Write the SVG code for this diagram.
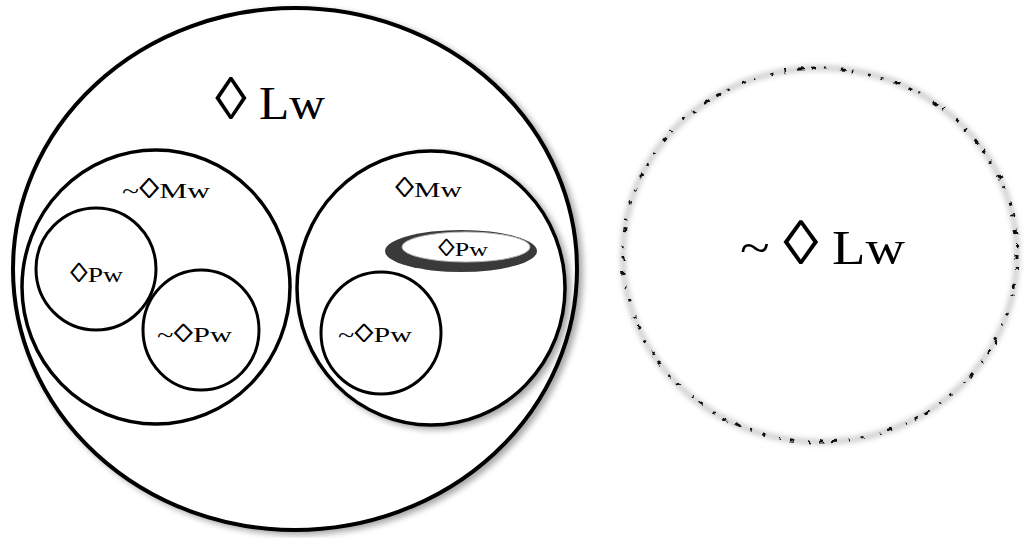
<svg xmlns="http://www.w3.org/2000/svg" width="1024" height="538" viewBox="0 0 1024 538">
<style>
  .ring { fill: #ffffff; stroke: #000000; }
  .lbl { font-family: "Liberation Serif", "Times New Roman", serif; fill: #000000; text-anchor: start; }
  .dia { font-size: 1.3em; }
</style>
<defs>
  <filter id="shadow" x="-10%" y="-10%" width="125%" height="125%">
    <feGaussianBlur in="SourceAlpha" stdDeviation="3"/>
    <feOffset dx="4" dy="3" result="b"/>
    <feComponentTransfer><feFuncA type="linear" slope="0.35"/></feComponentTransfer>
    <feMerge><feMergeNode/><feMergeNode in="SourceGraphic"/></feMerge>
  </filter>
  <filter id="soft" x="-5%" y="-5%" width="110%" height="110%">
    <feGaussianBlur stdDeviation="2.5"/>
  </filter>
  <filter id="rough" x="-5%" y="-5%" width="110%" height="110%">
    <feTurbulence type="fractalNoise" baseFrequency="0.12" numOctaves="2" seed="7" result="n"/>
    <feDisplacementMap in="SourceGraphic" in2="n" scale="7" xChannelSelector="R" yChannelSelector="G" result="d"/>
    <feGaussianBlur in="d" stdDeviation="0.5"/>
  </filter>
</defs>
<rect width="1024" height="538" fill="#ffffff"/>

<g id="lw">
  <ellipse class="ring" cx="295" cy="269" rx="282" ry="261" stroke-width="4" filter="url(#shadow)"/>
  <text class="lbl" x="215" y="119" font-size="46" textLength="110" lengthAdjust="spacingAndGlyphs"><tspan class="dia">◊</tspan> Lw</text>
</g>

<g id="not-mw">
  <ellipse class="ring" cx="156" cy="287" rx="134" ry="137" stroke-width="3.5"/>
  <text class="lbl" x="122" y="198" font-size="22" textLength="88" lengthAdjust="spacingAndGlyphs">~<tspan class="dia">◊</tspan>Mw</text>
</g>

<g id="pw-left">
  <ellipse class="ring" cx="96" cy="269" rx="60" ry="61" stroke-width="3"/>
  <text class="lbl" x="70" y="282" font-size="21" textLength="53" lengthAdjust="spacingAndGlyphs"><tspan class="dia">◊</tspan>Pw</text>
</g>

<g id="not-pw-left">
  <ellipse class="ring" cx="201" cy="330" rx="58" ry="60" stroke-width="3"/>
  <text class="lbl" x="157" y="342" font-size="20" textLength="75" lengthAdjust="spacingAndGlyphs">~<tspan class="dia">◊</tspan>Pw</text>
</g>

<g id="mw">
  <ellipse class="ring" cx="431" cy="288" rx="134" ry="137" stroke-width="3.5" filter="url(#shadow)"/>
  <text class="lbl" x="395" y="197" font-size="22" textLength="67" lengthAdjust="spacingAndGlyphs"><tspan class="dia">◊</tspan>Mw</text>
</g>

<g id="pw-right">
  <ellipse cx="461" cy="251" rx="76" ry="21" fill="#3a3a3a"/>
  <ellipse cx="466" cy="247" rx="64" ry="15" fill="#ffffff" stroke="#bbbbbb" stroke-width="1"/>
  <text class="lbl" x="438" y="256" font-size="19" textLength="50" lengthAdjust="spacingAndGlyphs"><tspan class="dia">◊</tspan>Pw</text>
</g>

<g id="not-pw-right">
  <ellipse class="ring" cx="381" cy="333" rx="60" ry="61" stroke-width="3"/>
  <text class="lbl" x="338" y="342" font-size="20" textLength="74" lengthAdjust="spacingAndGlyphs">~<tspan class="dia">◊</tspan>Pw</text>
</g>

<g id="not-lw">
  <ellipse cx="820" cy="255" rx="197" ry="187" fill="#ffffff" stroke="#d0d0d0" stroke-width="6" filter="url(#soft)"/>
  <ellipse cx="820" cy="255" rx="197" ry="187" fill="none" stroke="#111111" stroke-width="3" stroke-dasharray="4 9 2 14 5 7 1.5 16 3 10 2 12 6 8" filter="url(#rough)"/>
  <text class="lbl" x="740" y="264" font-size="48" textLength="165" lengthAdjust="spacingAndGlyphs">~ <tspan class="dia">◊</tspan> Lw</text>
</g>

<g id="connectors"></g>
</svg>
